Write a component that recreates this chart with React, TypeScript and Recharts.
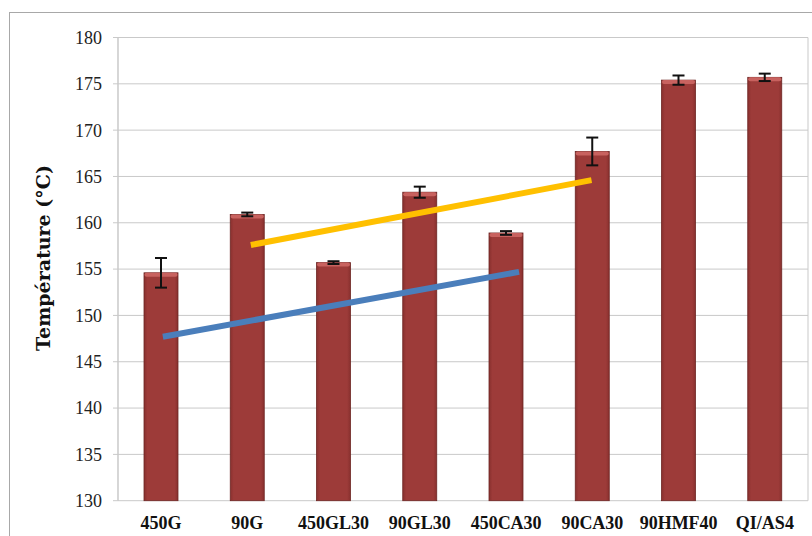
import React from 'react';
import {
  ComposedChart, Bar, XAxis, YAxis, CartesianGrid, ErrorBar, ReferenceLine,
} from 'recharts';

const categories = ['450G', '90G', '450GL30', '90GL30', '450CA30', '90CA30', '90HMF40', 'QI/AS4'];
const temperatures = [154.6, 160.9, 155.7, 163.3, 158.9, 167.7, 175.4, 175.7];
const errors = [1.6, 0.2, 0.15, 0.6, 0.2, 1.5, 0.5, 0.4];
const yTicks = [130, 135, 140, 145, 150, 155, 160, 165, 170, 175, 180];
const slotTicks = [0, 1, 2, 3, 4, 5, 6, 7, 8];
const blueTrend = [{ x: 0.52, y: 147.7 }, { x: 4.65, y: 154.7 }];
const orangeTrend = [{ x: 1.54, y: 157.6 }, { x: 5.49, y: 164.6 }];

const data = categories.map((name, i) => ({ name, slot: i + 0.5, value: temperatures[i], err: errors[i] }));

const GRID = '#c9c9c9';

const BarShape = (props: any) => {
  const { x, y, width, height } = props;
  if (width == null || height == null) return null;
  return (
    <g>
      <rect x={x} y={y} width={width} height={height} fill="url(#barGrad)" stroke="#6e2624" strokeWidth={0.8} />
      <rect x={x + 0.5} y={y} width={width - 1} height={4} rx={2} fill="#c8625f" />
    </g>
  );
};

const YLabel = () => {
  const cy = 258;
  return (
    <text
      x={43}
      y={cy}
      transform={`rotate(-90 43 ${cy})`}
      textAnchor="middle"
      dominantBaseline="central"
      fontFamily="'DejaVu Serif', serif"
      fontWeight="bold"
      fontSize={19}
      fill="#111"
    >
      Température (°C)
    </text>
  );
};

export default function App() {
  return (
    <div style={{ position: 'absolute', left: 0, top: 0, width: 812, height: 536, overflow: 'hidden', background: '#fff' }}>
      <div style={{ position: 'absolute', left: 9, top: 12, width: 900, height: 700, border: '1px solid #a8a8a8' }} />
      <div style={{ position: 'absolute', left: 0, top: 0 }}>
        <ComposedChart width={812} height={536} data={data} margin={{ top: 37.5, right: 4, bottom: 5.3, left: 58 }}>
          <defs>
            <linearGradient id="barGrad" x1="0" y1="0" x2="1" y2="0">
              <stop offset="0%" stopColor="#88302e" />
              <stop offset="10%" stopColor="#9d3b39" />
              <stop offset="90%" stopColor="#9d3b39" />
              <stop offset="100%" stopColor="#88302e" />
            </linearGradient>
          </defs>
          <CartesianGrid xAxisId="n" stroke={GRID} strokeWidth={1} />
          <XAxis
            xAxisId="n"
            type="number"
            dataKey="slot"
            domain={[0, 8]}
            allowDataOverflow
            ticks={slotTicks}
            height={0}
            tick={false}
            tickSize={6}
            tickLine={{ stroke: GRID }}
            axisLine={{ stroke: GRID }}
          />
          <XAxis
            xAxisId="c"
            dataKey="name"
            height={30}
            tickLine={false}
            axisLine={false}
            tickSize={5}
            tickMargin={11}
            interval={0}
            tick={{ fontFamily: "'Liberation Serif', serif", fontWeight: 'bold', fontSize: 18, fill: '#111' }}
          />
          <YAxis
            domain={[130, 180]}
            ticks={yTicks}
            width={60}
            tickSize={5}
            tickMargin={11}
            tickLine={{ stroke: GRID }}
            axisLine={{ stroke: GRID }}
            tick={{ fontFamily: "'Liberation Serif', serif", fontSize: 18, fill: '#222' }}
            label={<YLabel />}
          />
          <Bar xAxisId="c" dataKey="value" barSize={34} shape={<BarShape />} isAnimationActive={false}>
            <ErrorBar dataKey="err" width={6} strokeWidth={2} stroke="#111" />
          </Bar>
          <ReferenceLine
            xAxisId="n"
            segment={blueTrend}
            stroke="#4a7ebb"
            strokeWidth={6}
          />
          <ReferenceLine
            xAxisId="n"
            segment={orangeTrend}
            stroke="#ffc000"
            strokeWidth={6}
          />
        </ComposedChart>
      </div>
    </div>
  );
}
